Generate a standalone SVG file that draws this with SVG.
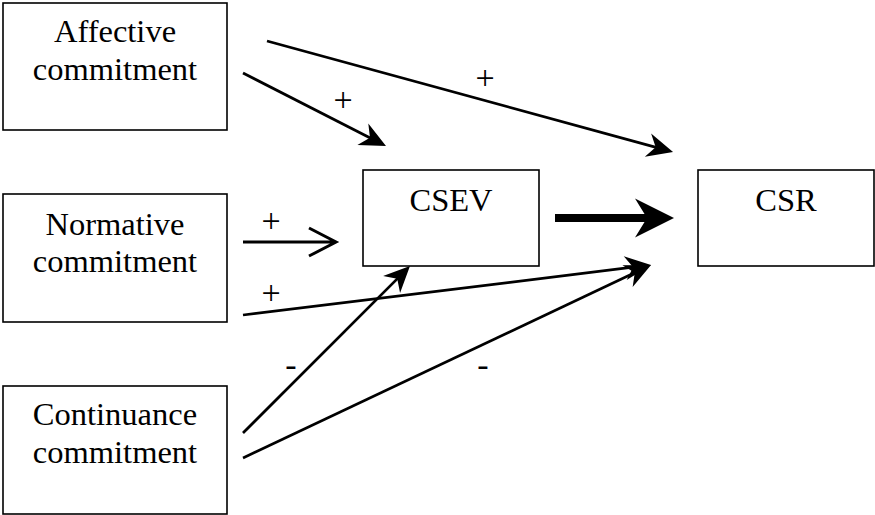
<svg xmlns="http://www.w3.org/2000/svg" width="875" height="515" viewBox="0 0 875 515">
<style>
.box{fill:#fff;stroke:#000;stroke-width:1.6}
.t{font-family:"Liberation Serif","Times New Roman",serif;font-size:32.5px;fill:#000;text-anchor:middle}
.lbl{font-family:"Liberation Serif","Times New Roman",serif;font-size:34px;fill:#000;text-anchor:middle}
.edge{fill:none;stroke:#000;stroke-width:2.7;marker-end:url(#ah)}
</style>
<defs>
<marker id="ah" markerUnits="userSpaceOnUse" viewBox="-20 -14 32 28" refX="0" refY="0" markerWidth="32" markerHeight="28" orient="auto" overflow="visible">
<path d="M10,0 L-16,-12 L-8,0 L-16,12 Z" fill="#000"/>
</marker>
<marker id="ahBig" markerUnits="userSpaceOnUse" viewBox="-30 -22 50 44" refX="0" refY="0" markerWidth="50" markerHeight="44" orient="auto" overflow="visible">
<path d="M20,0 L-19,-19.5 L-7,0 L-19,19.5 Z" fill="#000"/>
</marker>
</defs>
<g id="affective"><rect class="box" x="3" y="3" width="224" height="127"/><text class="t" x="115" y="42">Affective</text><text class="t" x="115" y="80">commitment</text></g>
<g id="normative"><rect class="box" x="3" y="194" width="224" height="128"/><text class="t" x="115" y="235">Normative</text><text class="t" x="115" y="272">commitment</text></g>
<g id="continuance"><rect class="box" x="3" y="386" width="224" height="128"/><text class="t" x="115" y="425">Continuance</text><text class="t" x="115" y="463">commitment</text></g>
<g id="csev"><rect class="box" x="363" y="170" width="176" height="96"/><text class="t" x="451" y="211">CSEV</text></g>
<g id="csr"><rect class="box" x="698" y="170" width="176" height="96"/><text class="t" x="786" y="211">CSR</text></g>
<g id="connectors">
<line class="edge" x1="267" y1="41" x2="663.4" y2="149.4"/>
<line class="edge" x1="243" y1="73" x2="377.1" y2="141.5"/>
<path d="M243,242 H334 M309,228 L336,242 L309,256" fill="none" stroke="#000" stroke-width="3"/>
<line x1="555" y1="218" x2="654" y2="218" stroke="#000" stroke-width="8" marker-end="url(#ahBig)"/>
<line class="edge" x1="243" y1="315" x2="641.1" y2="266.2"/>
<line class="edge" x1="243" y1="458" x2="642" y2="269.3"/>
<line class="edge" x1="243" y1="433" x2="402.9" y2="273.1"/>
<text class="lbl" x="485" y="89">+</text>
<text class="lbl" x="343" y="111">+</text>
<text class="lbl" x="271" y="232">+</text>
<text class="lbl" x="271" y="304">+</text>
<text class="lbl" x="291" y="376">-</text>
<text class="lbl" x="483" y="376">-</text>
</g>
</svg>
